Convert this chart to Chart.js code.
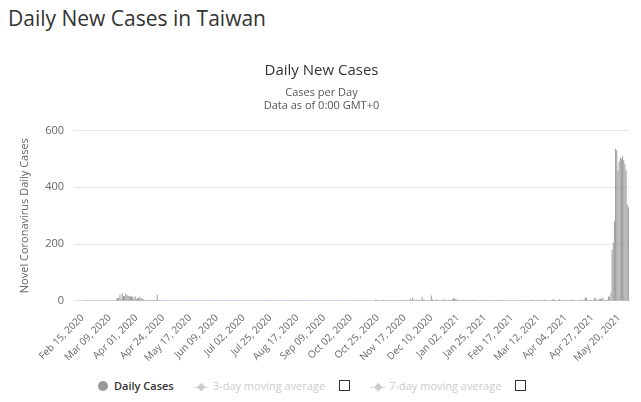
<!DOCTYPE html>
<html><head><meta charset="utf-8">
<script src="https://cdn.jsdelivr.net/npm/chart.js@4/dist/chart.umd.min.js"></script>
<style>
body{margin:0;background:#fff;font-family:"Open Sans",sans-serif;width:641px;height:402px;overflow:hidden;position:relative}
h1{position:absolute;left:8px;top:4px;margin:0;font-weight:normal;font-size:21px;color:#333}
#wrap{position:absolute;left:0;top:44px;width:641px;height:323px}
#leg{position:absolute;top:378px;left:98px;font-size:11px;color:#333;display:flex;align-items:center;white-space:nowrap}
.it{display:flex;align-items:center;margin-right:20px}
.dot{width:10px;height:10px;border-radius:50%;background:#999;margin-right:6px}
.ln{color:#ccc;margin-right:4px}
.box{width:9px;height:9px;border:1px solid #333;margin-left:14px}
</style></head><body>
<h1>Daily New Cases in Taiwan</h1>
<div id="wrap"><canvas id="c"></canvas></div>
<div id="leg">
<div class="it"><span class="dot"></span><b style="font-weight:600">Daily Cases</b></div>
<div class="it" style="color:#ccc"><span class="ln">-◆-</span>3-day moving average<span class="box"></span></div>
<div class="it" style="color:#ccc"><span class="ln">-◆-</span>7-day moving average<span class="box"></span></div>
</div>
<script>
const startDate = [2020, 1, 15];
const feb20 = [0,0,1,0,2,0,2,1,2,1,2,0,0,0,1,0,1,0,0,1,2,1,2,0,0,0,2,2,0];
const mar20 = [6,10,10,23,8,27,17,16,26,20,19,17,15,16,15,8,16];
const apr20 = [7,10,9,15,8,10,6,3,0,2,3,1,0,1,2,3,3,1,22,0,0,1,1,0,0,0,0,0,0,0];
const may20 = [0,0,0,0,0,0,0,0,0,0,0,0,0,0,0,0,0,0,1,0,0,0,0,0,0,0,0,0,0,0,0];
const jun20 = [0,0,0,0,0,1,0,0,0,0,0,0,0,0,0,0,0,0,0,0,0,2,0,0,0,0,0,0,0,0];
const jul20 = [0,0,0,0,0,0,0,0,0,0,0,0,0,0,0,0,0,0,0,0,0,0,0,1,3,0,0,0,0,0,0];
const aug20 = [0,0,0,0,0,0,0,0,2,0,0,1,0,0,3,0,2,0,0,0,0,0,0,0,0,1,0,0,0,0,0];
const sep20 = [0,0,0,0,0,0,0,0,0,0,0,0,0,0,0,0,0,0,0,0,0,0,0,0,2,0,0,0,0,0];
const oct20 = [0,0,0,0,1,0,0,0,3,0,0,0,0,2,0,0,0,0,0,0,0,0,5,4,0,3,0,0,2,3,1];
const nov20 = [0,4,1,0,0,3,0,1,4,0,0,2,3,3,0,1,4,2,1,0,2,8,4,12,3,1,4,2,4,1];
const dec20 = [3,15,5,4,2,0,2,1,0,19,5,3,2,6,4,3,2,0,3,8,3,5,2,2,4,3,3,5,9,8,7];
const jan21 = [4,5,2,1,3,2,5,1,1,2,4,2,2,1,4,3,3,2,1,2,1,1,0,1,3,1,3,1,1,1,2];
const feb21 = [2,2,2,2,1,1,2,3,1,1,1,0,1,0,0,1,1,2,1,2,1,0,2,0,1,1,1,3];
const mar21 = [1,1,0,0,2,4,2,3,1,1,1,1,2,2,3,3,5,3,2,2,1,2,3,6,4,5,2,1,3,6,2];
const apr21 = [4,2,1,1,2,3,1,4,4,1,4,2,1,1,2,2,5,2,3,6,12,11,2,3,3,2,1,4,10,9];
const may21 = [2,5,7,8,7,12,3,3,4,4,16,13,29,180,206,280,535,530,460,490,505,500,510,495,480,460,340,330];
const dailyCases = [...feb20,...mar20,...apr20,...may20,...jun20,...jul20,...aug20,...sep20,...oct20,...nov20,...dec20,...jan21,...feb21,...mar21,...apr21,...may21];
const yTicks = [0,200,400,600];
const tickEvery = 23;
const M = ["Jan","Feb","Mar","Apr","May","Jun","Jul","Aug","Sep","Oct","Nov","Dec"];
const labels = dailyCases.map((_,i)=>{const d=new Date(Date.UTC(startDate[0],startDate[1],startDate[2]+i));return M[d.getUTCMonth()]+" "+String(d.getUTCDate()).padStart(2,"0")+", "+d.getUTCFullYear();});
new Chart(document.getElementById('c'),{
type:'bar',
data:{labels,datasets:[{label:'Daily Cases',data:dailyCases,backgroundColor:'#999',barPercentage:1,categoryPercentage:0.85}]},
options:{responsive:true,maintainAspectRatio:false,animation:false,
layout:{padding:{left:14,right:12,top:0}},
plugins:{legend:{display:false},tooltip:{enabled:false},
title:{display:true,text:'Daily New Cases',color:'#333',font:{family:'Open Sans',size:15,weight:'normal'},padding:{top:18,bottom:6}},
subtitle:{display:true,text:['Cases per Day','Data as of 0:00 GMT+0'],color:'#555',font:{family:'Open Sans',size:11},padding:{bottom:18}}},
scales:{
x:{grid:{display:false},border:{color:'#ccd6eb'},
ticks:{autoSkip:false,maxRotation:45,minRotation:45,color:'#666',font:{family:'Open Sans',size:10},
callback:function(v,i){return i%tickEvery===0?labels[i]:null;}}},
y:{min:0,max:600,afterBuildTicks:a=>{a.ticks=yTicks.map(v=>({value:v}));},
grid:{color:'#e6e6e6'},border:{display:false},
ticks:{color:'#666',font:{family:'Open Sans',size:11},padding:10},
title:{display:true,text:'Novel Coronavirus Daily Cases',color:'#666',font:{family:'Open Sans',size:11}}}}}
});
</script></body></html>
